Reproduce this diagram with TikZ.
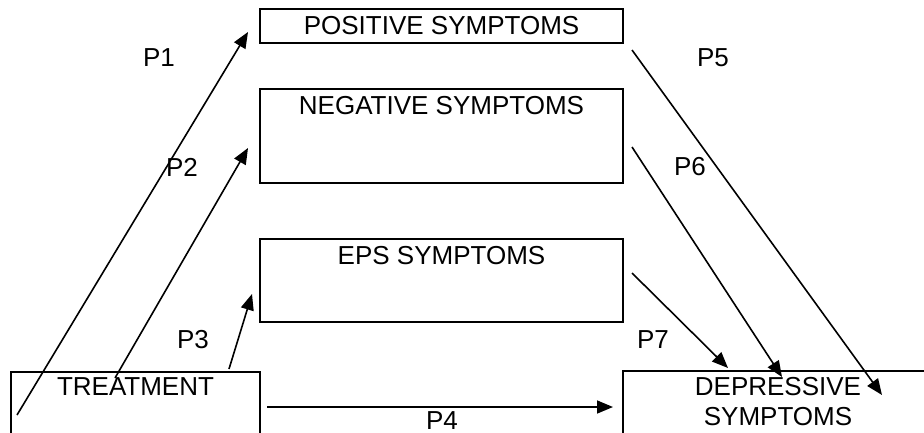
\documentclass[tikz,border=0pt]{standalone}
\usepackage{fontspec}
\setmainfont{Liberation Sans}
\usetikzlibrary{arrows.meta}
\begin{document}
\begin{tikzpicture}[x=1pt,y=-1pt,
  box/.style={draw=black, line width=2.2pt, fill=none, inner sep=0pt},
  txt/.style={inner sep=0pt, font=\fontsize{26}{30}\selectfont, align=center},
  lbl/.style={inner sep=0pt, font=\fontsize{26}{30}\selectfont},
  arr/.style={line width=1.6pt, -{Triangle[length=16pt,width=13pt]}}]
\useasboundingbox (0,0) rectangle (924,432);
\clip (0,0) rectangle (924,432);
% boxes
\node[box, minimum width=363pt, minimum height=34pt] (pos) at (441.5,26) {};
\node[box, minimum width=363pt, minimum height=94pt] (neg) at (441.5,136) {};
\node[box, minimum width=363pt, minimum height=83pt] (eps) at (441.5,280.5) {};
\node[box, minimum width=249pt, minimum height=78pt] (treat) at (135.5,411) {};
\node[box, minimum width=310pt, minimum height=79pt] (dep) at (778,410.5) {};
% texts
\node[txt] (tpos) at (441.5,26) {POSITIVE SYMPTOMS};
\node[txt] (tneg) at (441.5,106) {NEGATIVE SYMPTOMS};
\node[txt] (teps) at (441.5,256) {EPS SYMPTOMS};
\node[txt] (ttreat) at (135.5,387) {TREATMENT};
\node[txt] (tdep) at (778,402) {DEPRESSIVE\\SYMPTOMS};
% arrow end points
\coordinate (p1s) at (17,415);  \coordinate (p1e) at (248,32);
\coordinate (p2s) at (115,378); \coordinate (p2e) at (248,148);
\coordinate (p3s) at (229,369); \coordinate (p3e) at (252,294);
\coordinate (p4s) at (267,407); \coordinate (p4e) at (613,407);
\coordinate (p5s) at (632,50);  \coordinate (p5e) at (882,395);
\coordinate (p6s) at (632,147); \coordinate (p6e) at (782,377);
\coordinate (p7s) at (632,273); \coordinate (p7e) at (728,368);
\draw[arr] (p1s) -- (p1e);
\draw[arr] (p2s) -- (p2e);
\draw[arr] (p3s) -- (p3e);
\draw[arr] (p4s) -- (p4e);
\draw[arr] (p5s) -- (p5e);
\draw[arr] (p6s) -- (p6e);
\draw[arr] (p7s) -- (p7e);
% labels
\node[lbl] (l1) at (159,58) {P1};
\node[lbl] (l2) at (182,167) {P2};
\node[lbl] (l3) at (193,340) {P3};
\node[lbl] (l4) at (442,421) {P4};
\node[lbl] (l5) at (713,58) {P5};
\node[lbl] (l6) at (690,167) {P6};
\node[lbl] (l7) at (653,340) {P7};
\end{tikzpicture}
\end{document}
